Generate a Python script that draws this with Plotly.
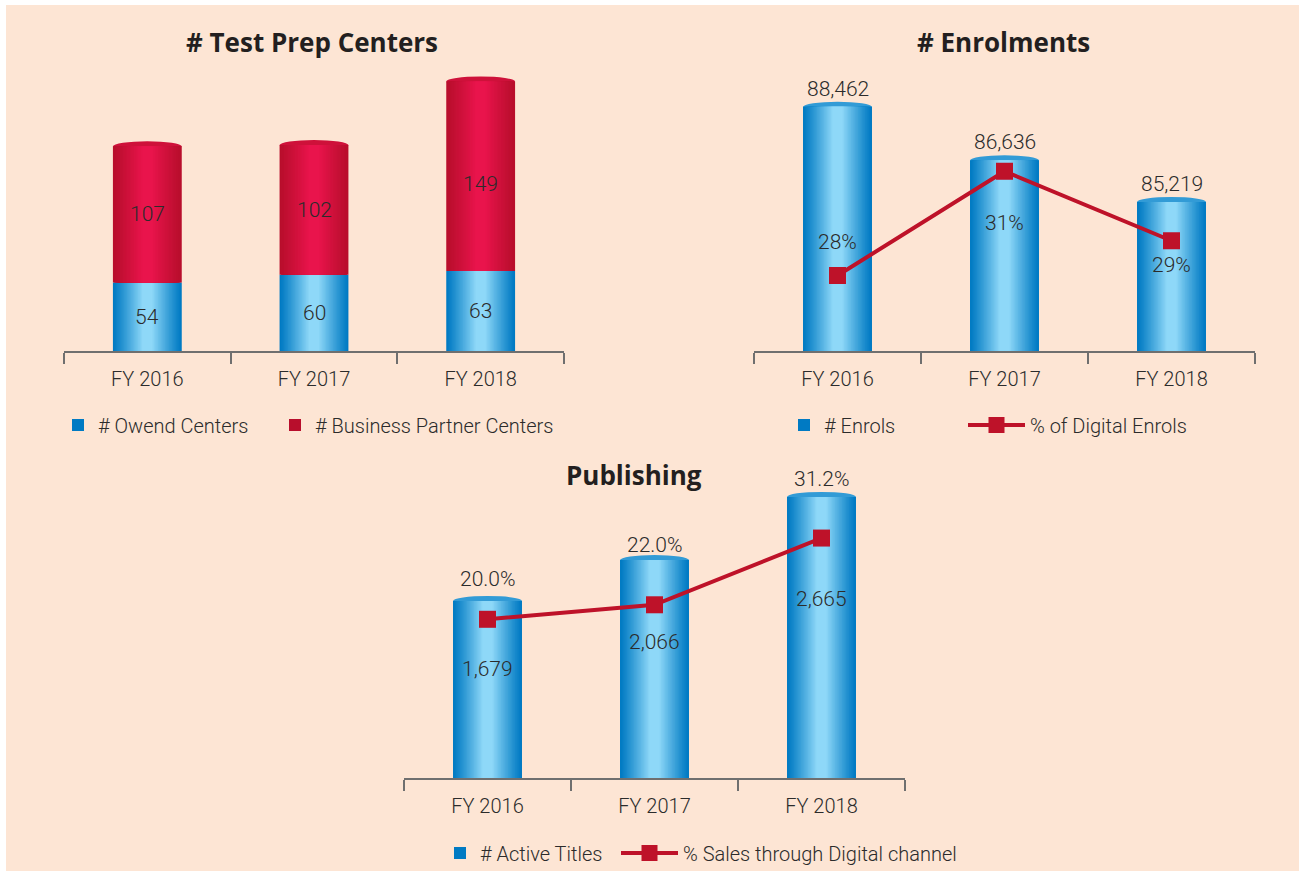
import plotly.graph_objects as go

# ---------------- data ----------------
years = ["FY 2016", "FY 2017", "FY 2018"]

owned_centers = [54, 60, 63]
partner_centers = [107, 102, 149]

enrols = [88462, 86636, 85219]
digital_enrol_pct = [28, 31, 29]

active_titles = [1679, 2066, 2665]
digital_sales_pct = [20.0, 22.0, 31.2]

# ---------------- style ----------------
W, H = 1299, 873
BG = "#fde5d4"
FONT = "Roboto"
TXT = "#2b2b2b"
AXIS = "#6f6f6f"
BLUE_EDGE, BLUE_MID = (0, 122, 195), (142, 216, 248)
RED_EDGE, RED_MID = (184, 14, 44), (233, 20, 76)
LINE_RED = "#be1229"
BAR_W = 0.413
N_LAYERS = 22


def mix(c1, c2, t):
    return "rgb(%d,%d,%d)" % tuple(round(a + (b - a) * t) for a, b in zip(c1, c2))


def px_x(p):
    return p / W


def px_y(p):
    return 1 - p / H


fig = go.Figure()


def cylinder(xa, ya, x, y, base, edge, mid, name, legend, showleg=True):
    for k in range(N_LAYERS):
        t = k / (N_LAYERS - 1)
        fig.add_trace(go.Bar(
            x=x, y=y, base=base, xaxis=xa, yaxis=ya,
            width=BAR_W * (1 - 0.85 * t),
            marker=dict(color=mix(edge, mid, t ** 1.1), line=dict(width=0)),
            name=name, legend=legend,
            showlegend=(showleg and k == 0),
            hoverinfo="skip",
        ))


# ---- top-left: stacked Test Prep Centers ----
cylinder("x", "y", years, owned_centers, [0, 0, 0], BLUE_EDGE, BLUE_MID, "# Owend Centers", "legend")
cylinder("x", "y", years, partner_centers, owned_centers, RED_EDGE, RED_MID, "# Business Partner Centers", "legend6")

# ---- top-right: Enrolments ----
cylinder("x2", "y2", years, enrols, None, BLUE_EDGE, BLUE_MID, "# Enrols", "legend2")
fig.add_trace(go.Scatter(
    x=years, y=digital_enrol_pct, xaxis="x2", yaxis="y3", mode="lines+markers",
    line=dict(color=LINE_RED, width=4), marker=dict(symbol="square", size=17, color=LINE_RED),
    name="% of Digital Enrols", legend="legend3", hoverinfo="skip"))

# ---- bottom: Publishing ----
cylinder("x3", "y4", years, active_titles, None, BLUE_EDGE, BLUE_MID, "# Active Titles", "legend4")
fig.add_trace(go.Scatter(
    x=years, y=digital_sales_pct, xaxis="x3", yaxis="y5", mode="lines+markers",
    line=dict(color=LINE_RED, width=4), marker=dict(symbol="square", size=17, color=LINE_RED),
    name="% Sales through Digital channel", legend="legend5", hoverinfo="skip"))

# ---------------- caps (ellipses at bar tops, drawn under the bars) ----------------
shapes = [dict(type="rect", xref="paper", yref="paper", x0=px_x(6), x1=1, y0=0, y1=px_y(5),
               fillcolor=BG, line=dict(width=0), layer="below")]


def caps(xref, yref, tops, color):
    for i, top in enumerate(tops):
        hw = BAR_W / 2
        shapes.append(dict(type="circle", xref=xref, yref=yref,
                           x0=i - hw, x1=i + hw, ysizemode="pixel", yanchor=top,
                           y0=-5, y1=5, fillcolor=color, line=dict(width=0), layer="below"))


caps("x", "y", [a + b for a, b in zip(owned_centers, partner_centers)], mix(RED_EDGE, RED_MID, 0.45))
caps("x2", "y2", enrols, mix(BLUE_EDGE, BLUE_MID, 0.35))
caps("x3", "y4", active_titles, mix(BLUE_EDGE, BLUE_MID, 0.35))

# ---------------- annotations ----------------
ann = []
lab = dict(size=21, color=TXT, family=FONT, weight=300)

partner_shift = [0, 0, -8]
for i, yr in enumerate(years):
    ann.append(dict(x=yr, y=owned_centers[i] / 2, xref="x", yref="y", text=str(owned_centers[i]),
                    showarrow=False, font=lab))
    ann.append(dict(x=yr, y=owned_centers[i] + partner_centers[i] / 2, xref="x", yref="y",
                    text=str(partner_centers[i]), showarrow=False, font=lab, yshift=partner_shift[i]))

enrol_pct_shift = [33, -52, -24]
for i, yr in enumerate(years):
    ann.append(dict(x=yr, y=enrols[i], xref="x2", yref="y2", text=f"{enrols[i]:,}",
                    showarrow=False, font=lab, yshift=18))
    ann.append(dict(x=yr, y=digital_enrol_pct[i], xref="x2", yref="y3", text=f"{digital_enrol_pct[i]}%",
                    showarrow=False, font=lab, yshift=enrol_pct_shift[i]))

title_shift = [50, 37, 61]
pct_shift = [22, 15, 18]
for i, yr in enumerate(years):
    ann.append(dict(x=yr, y=active_titles[i], xref="x3", yref="y4", text=f"{digital_sales_pct[i]:.1f}%",
                    showarrow=False, font=lab, yshift=pct_shift[i]))
    ann.append(dict(x=yr, y=digital_sales_pct[i], xref="x3", yref="y5", text=f"{active_titles[i]:,}",
                    showarrow=False, font=lab, yshift=-title_shift[i]))

tfont = dict(size=26, color="#231f20", family="Open Sans", weight="bold")
for tx, tpx, tpy in [("# Test Prep Centers", 312, 42), ("# Enrolments", 1003, 42), ("Publishing", 634, 476)]:
    ann.append(dict(x=px_x(tpx), y=px_y(tpy), xref="paper", yref="paper", text=f"<b>{tx}</b>",
                    xanchor="center", yanchor="middle", showarrow=False, font=tfont))

# ---------------- axes ----------------
xcommon = dict(type="category", range=[-0.5, 2.5], showline=True, linecolor=AXIS, linewidth=2,
               ticks="outside", tickson="boundaries", ticklen=11, tickwidth=2, tickcolor=AXIS,
               ticklabelstandoff=9,
               showgrid=False, zeroline=False,
               tickfont=dict(size=20, color=TXT, family=FONT, weight=300),
               fixedrange=True)
yhidden = dict(visible=False, showgrid=False, zeroline=False, fixedrange=True)

legfont = dict(size=20, color=TXT, family=FONT, weight=300)


def leg(x, y, **kw):
    d = dict(orientation="h", x=px_x(x), y=px_y(y), xanchor="left", yanchor="middle",
             bgcolor="rgba(0,0,0,0)", font=legfont, tracegroupgap=0)
    d.update(kw)
    return d


fig.update_layout(
    width=W, height=H,
    paper_bgcolor="white", plot_bgcolor="rgba(0,0,0,0)",
    margin=dict(l=0, r=0, t=0, b=0),
    barmode="overlay",
    font=dict(family=FONT, color=TXT),
    xaxis=dict(domain=[px_x(64), px_x(564)], anchor="y", **xcommon),
    yaxis=dict(domain=[px_y(352), px_y(60)], range=[0, 229], anchor="x", **yhidden),
    xaxis2=dict(domain=[px_x(754), px_x(1255)], anchor="y2", **xcommon),
    yaxis2=dict(domain=[px_y(352), px_y(60)], range=[80130, 90062], anchor="x2", **yhidden),
    yaxis3=dict(overlaying="y2", range=[25.82, 34.21], anchor="x2", **yhidden),
    xaxis3=dict(domain=[px_x(404), px_x(905)], anchor="y4", **xcommon),
    yaxis4=dict(domain=[px_y(780), px_y(470)], range=[0, 2930], anchor="x3", **yhidden),
    yaxis5=dict(overlaying="y4", range=[-1.91, 40.73], anchor="x3", **yhidden),
    legend=leg(58, 426),
    legend6=leg(275, 426),
    legend2=leg(784, 426),
    legend3=leg(963, 426, itemwidth=57),
    legend4=leg(440, 855),
    legend5=leg(616, 855, itemwidth=57),
    shapes=shapes,
    annotations=ann,
)

fig.write_html("out.html", config={"displayModeBar": False},
               post_script="document.body.style.margin='0';document.body.style.overflow='hidden';")
